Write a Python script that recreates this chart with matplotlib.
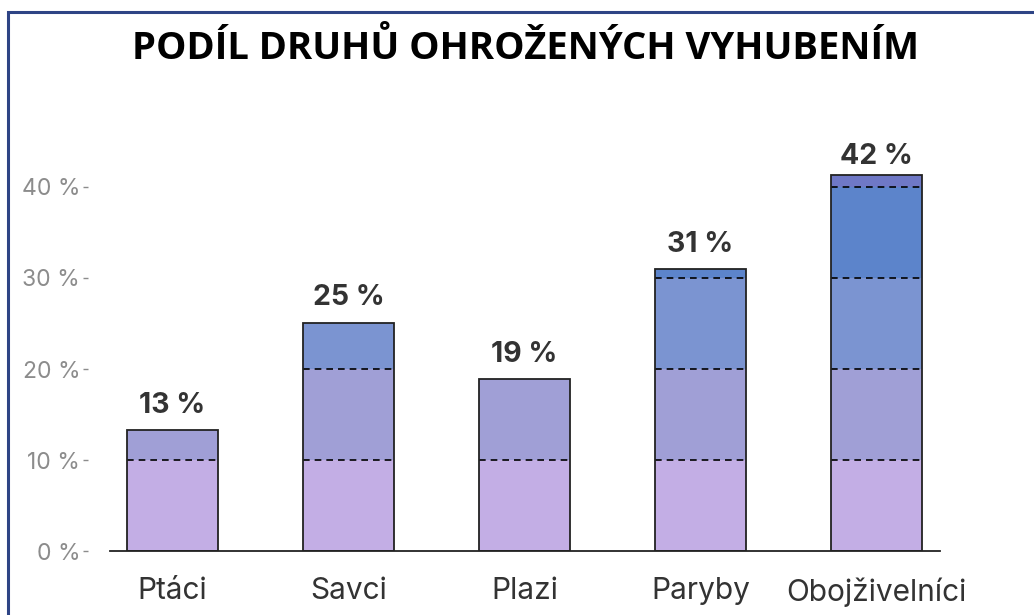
import matplotlib
matplotlib.use("Agg")
import matplotlib.pyplot as plt
from matplotlib.patches import Rectangle

# data
categories = ["Ptáci", "Savci", "Plazi", "Paryby", "Obojživelníci"]
values = [13.3, 25.1, 18.9, 31.0, 41.3]
labels = ["13 %", "25 %", "19 %", "31 %", "42 %"]
band_colors = ["#C3AEE5", "#A09FD6", "#7B94D1", "#5C84CB", "#6F78C6"]
yticks = [0, 10, 20, 30, 40]

plt.rcParams['font.family'] = ['Inter', 'DejaVu Sans']

fig = plt.figure(figsize=(10.34, 6.15), dpi=100)
ax = fig.add_axes([0.1064, 0.104, 0.8026, 0.74])
ax.spines['left'].set_position(('outward', 15.5))

width = 0.515
x = list(range(len(categories)))
for i, v in enumerate(values):
    k = 0
    while k * 10 < v:
        h = min(v, (k + 1) * 10) - k * 10
        ax.bar(i, h, width=width, bottom=k * 10, color=band_colors[k], edgecolor='none', zorder=2)
        if (k + 1) * 10 < v:
            ax.hlines((k + 1) * 10, i - width / 2, i + width / 2, colors='black',
                      linestyles=(0, (4, 3)), linewidth=1.2, zorder=3)
        k += 1
    ax.bar(i, v, width=width, fill=False, edgecolor='#222222', linewidth=1.3, zorder=4)
    off = 4 if v > 40 else 8
    ax.annotate(labels[i], (i, v), xytext=(0, off), textcoords='offset points',
                ha='center', va='bottom', fontsize=20.5, fontweight='bold', color='#333333')

ax.set_xlim(-0.355, 4.36)
ax.set_ylim(0, 50)
ax.set_xticks(x)
ax.set_xticklabels(categories, fontsize=21.5, color='#333333')
ax.tick_params(axis='x', length=0, pad=19)
ax.set_yticks(yticks)
ax.set_yticklabels([f"{t} %" for t in yticks], fontsize=16.5, color='#8C8C8C')
ax.tick_params(axis='y', length=3.5, width=1, color='#8C8C8C', pad=2.5)

for s in ['top', 'right', 'left']:
    ax.spines[s].set_visible(False)
ax.spines['bottom'].set_color('#222222')
ax.spines['bottom'].set_linewidth(1.3)

fig.text(0.508, 0.92, "PODÍL DRUHŮ OHROŽENÝCH VYHUBENÍM", ha='center', va='center',
         fontsize=27.5, fontweight='bold', color='black', family=['Open Sans', 'DejaVu Sans'])

fig.add_artist(Rectangle((7.5 / 1034, -0.1), 1.2, 1.1 - 12.5 / 615, transform=fig.transFigure,
                         fill=False, edgecolor='#2E4485', linewidth=2.2))

fig.savefig("out.png", dpi=100)
